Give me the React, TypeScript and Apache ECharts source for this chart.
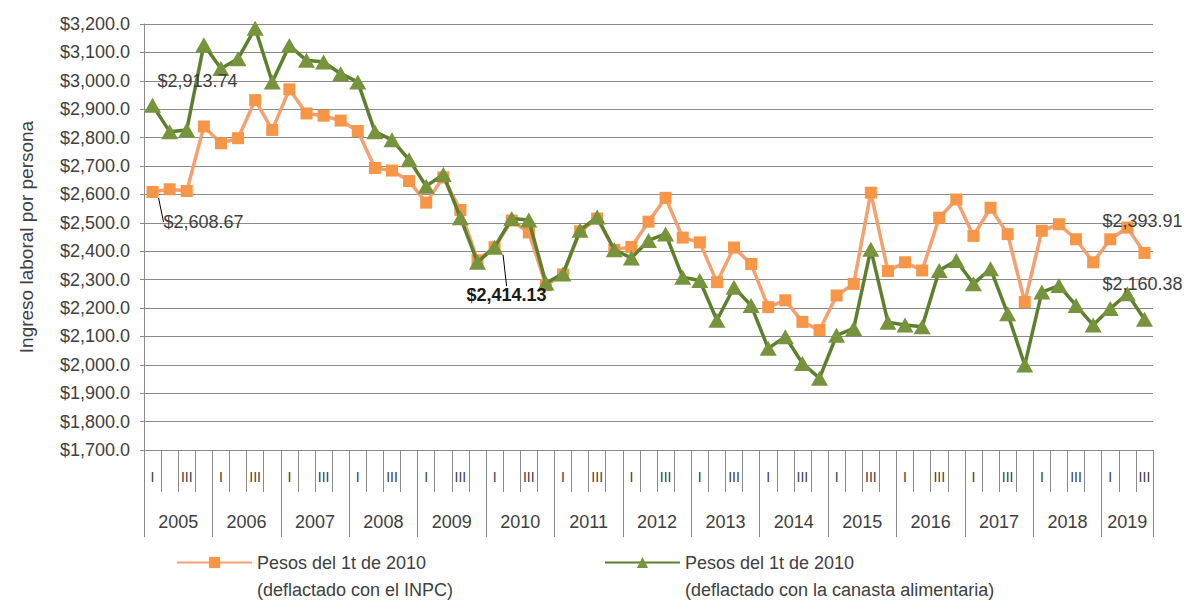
import React, { useEffect, useRef } from "react";
import * as echarts from "echarts";

const years = ["2005", "2006", "2007", "2008", "2009", "2010", "2011", "2012", "2013", "2014", "2015", "2016", "2017", "2018", "2019"];
const quartersInYear = [4, 4, 4, 4, 4, 4, 4, 4, 4, 4, 4, 4, 4, 4, 3];
const quarterNames = ["I", "II", "III", "IV"];

const inpcName = "Pesos del 1t de 2010\n(deflactado con el INPC)";
const canastaName = "Pesos del 1t de 2010\n(deflactado con la canasta alimentaria)";

const inpc = [
  2608.67, 2618, 2612, 2839, 2780, 2798, 2932, 2827, 2970, 2885, 2877, 2860, 2823, 2693, 2684,
  2647, 2571, 2660, 2545, 2368, 2414.13, 2508, 2466, 2280, 2318, 2470, 2515, 2405, 2415, 2504,
  2588, 2448, 2431, 2291, 2413, 2355, 2203, 2227, 2151, 2122, 2244, 2285, 2606, 2330, 2361,
  2332, 2518, 2582, 2454, 2553, 2460, 2221, 2472, 2495, 2442, 2361, 2442, 2483, 2393.91,
];

const canasta = [
  2913.74, 2821, 2827, 3127, 3043, 3078, 3185, 2996, 3124, 3072, 3066, 3025, 2996, 2821, 2792,
  2722, 2629, 2670, 2518, 2361, 2414.13, 2515, 2510, 2288, 2320, 2474, 2520, 2405, 2376, 2438,
  2461, 2308, 2297, 2157, 2273, 2209, 2058, 2099, 2005, 1953, 2104, 2128, 2407, 2150, 2140,
  2134, 2332, 2367, 2285, 2338, 2180, 1999, 2256, 2279, 2209, 2140, 2198, 2250, 2160.38,
];

const yMin = 1700;
const yMax = 3200;
const yStep = 100;

const inpcLabelled = [0, 58];
const canastaLabelled = [0, 20, 58];

const quarterCats: string[] = [];
const yearCats: string[] = [];
const yearStartIdx: number[] = [];
years.forEach((y, yi) => {
  yearStartIdx.push(quarterCats.length);
  for (let q = 0; q < quartersInYear[yi]; q++) {
    quarterCats.push(quarterNames[q]);
    yearCats.push(y);
  }
});

const FONT = "Liberation Sans";
const TXT = "#404040";
const GRID = "#8a8a8a";

const money2 = (v: number) =>
  "$" + v.toLocaleString("en-US", { minimumFractionDigits: 2, maximumFractionDigits: 2 });
const money1 = (v: number) =>
  "$" + v.toLocaleString("en-US", { minimumFractionDigits: 1, maximumFractionDigits: 1 });

export default function App() {
  const ref = useRef<HTMLDivElement>(null);
  useEffect(() => {
    if (!ref.current) return;
    const chart = echarts.init(ref.current, null, { renderer: "svg" });

    const yearLabelIdx: Record<number, boolean> = {};
    const yearLabelShift: Record<number, boolean> = {};
    years.forEach((_, yi) => {
      const n = quartersInYear[yi];
      const idx = yearStartIdx[yi] + Math.floor((n - 1) / 2);
      yearLabelIdx[idx] = true;
      yearLabelShift[idx] = n % 2 === 0;
    });
    const yearStart: Record<number, boolean> = {};
    yearStartIdx.forEach((i) => (yearStart[i] = true));

    const inpcOffsets: Record<number, [number, number]> = { 0: [51, 30], 58: [-2, -32] };
    const canastaOffsets: Record<number, [number, number]> = { 0: [45, -24], 20: [12, 48], 58: [-2, -35] };

    const mkData = (arr: number[], labelled: number[], bold: number[], leader: number[]) =>
      arr.map((v, i) =>
        labelled.includes(i)
          ? {
              value: v,
              label: {
                show: true,
                position: "inside",
                formatter: () => money2(v),
                fontFamily: FONT,
                fontSize: 18,
                color: bold.includes(i) ? "#1a1a1a" : TXT,
                fontWeight: bold.includes(i) ? "bold" : "normal",
              },
              labelLine: { show: leader.includes(i), lineStyle: { color: "#000", width: 1 } },
            }
          : v
      );

    const legendBase = {
      top: 522,
      padding: 0,
      itemWidth: 75,
      itemHeight: 14,
      itemGap: 0,
      formatter: (name: string) => " \n" + name,
      textStyle: { fontFamily: FONT, fontSize: 18, color: TXT, lineHeight: 27 },
    };

    chart.setOption({
      animation: false,
      backgroundColor: "#fff",
      grid: { left: 144, right: 36, top: 24, bottom: 155, containLabel: false },
      legend: [
        { ...legendBase, data: [inpcName], left: 176 },
        { ...legendBase, data: [canastaName], left: 604 },
      ],
      xAxis: [
        {
          type: "category",
          data: quarterCats,
          position: "bottom",
          boundaryGap: true,
          axisLine: { show: true, onZero: false, lineStyle: { color: GRID, width: 1 } },
          axisTick: { show: true, length: 42, interval: 0, lineStyle: { color: GRID, width: 1 } },
          axisLabel: {
            interval: (i: number) => i % 4 === 0 || i % 4 === 2,
            margin: 20,
            fontFamily: FONT,
            fontSize: 14,
            color: TXT,
          },
          splitLine: { show: false },
        },
        {
          type: "category",
          data: yearCats,
          position: "bottom",
          boundaryGap: true,
          axisLine: { show: false, onZero: false },
          axisTick: {
            show: true,
            length: 87,
            interval: (i: number) => !!yearStart[i],
            lineStyle: { color: GRID, width: 1 },
          },
          axisLabel: {
            interval: (i: number) => !!yearLabelIdx[i],
            margin: 63,
            formatter: (v: string, i: number) => (yearLabelShift[i] ? `{s|${v}}` : `{c|${v}}`),
            rich: {
              s: { fontFamily: FONT, fontSize: 18, color: TXT, padding: [0, 0, 0, 17] },
              c: { fontFamily: FONT, fontSize: 18, color: TXT },
            },
          },
          splitLine: { show: false },
        },
      ],
      yAxis: {
        type: "value",
        min: yMin,
        max: yMax,
        interval: yStep,
        name: "Ingreso laboral por persona",
        nameLocation: "middle",
        nameRotate: 90,
        nameGap: 108,
        nameTextStyle: { fontFamily: FONT, fontSize: 19, color: TXT },
        axisLine: { show: true, lineStyle: { color: GRID, width: 1 } },
        axisTick: { show: true, length: 4, lineStyle: { color: GRID, width: 1 } },
        axisLabel: { formatter: money1, margin: 14, fontFamily: FONT, fontSize: 18, color: TXT },
        splitLine: { show: true, lineStyle: { color: GRID, width: 1 } },
      },
      series: [
        {
          name: inpcName,
          type: "line",
          data: mkData(inpc, inpcLabelled, [], [0]),
          symbol: "rect",
          symbolSize: 12,
          showAllSymbol: true,
          lineStyle: { color: "#F4A070", width: 3.5 },
          itemStyle: { color: "#F79646" },
          labelLayout: (p: any) => {
            const o = inpcOffsets[p.dataIndex];
            return o ? { dx: o[0], dy: o[1] } : {};
          },
          z: 2,
        },
        {
          name: canastaName,
          type: "line",
          data: mkData(canasta, canastaLabelled, [20], [20]),
          symbol: "triangle",
          symbolSize: [17, 15],
          showAllSymbol: true,
          lineStyle: { color: "#5E7F2E", width: 3.5 },
          itemStyle: { color: "#77933C" },
          labelLayout: (p: any) => {
            const o = canastaOffsets[p.dataIndex];
            return o ? { dx: o[0], dy: o[1] } : {};
          },
          z: 3,
        },
      ],
    });
    return () => chart.dispose();
  }, []);
  return (
    <div
      ref={ref}
      style={{ position: "fixed", left: 0, top: 0, width: 1189, height: 605, background: "#fff" }}
    />
  );
}
